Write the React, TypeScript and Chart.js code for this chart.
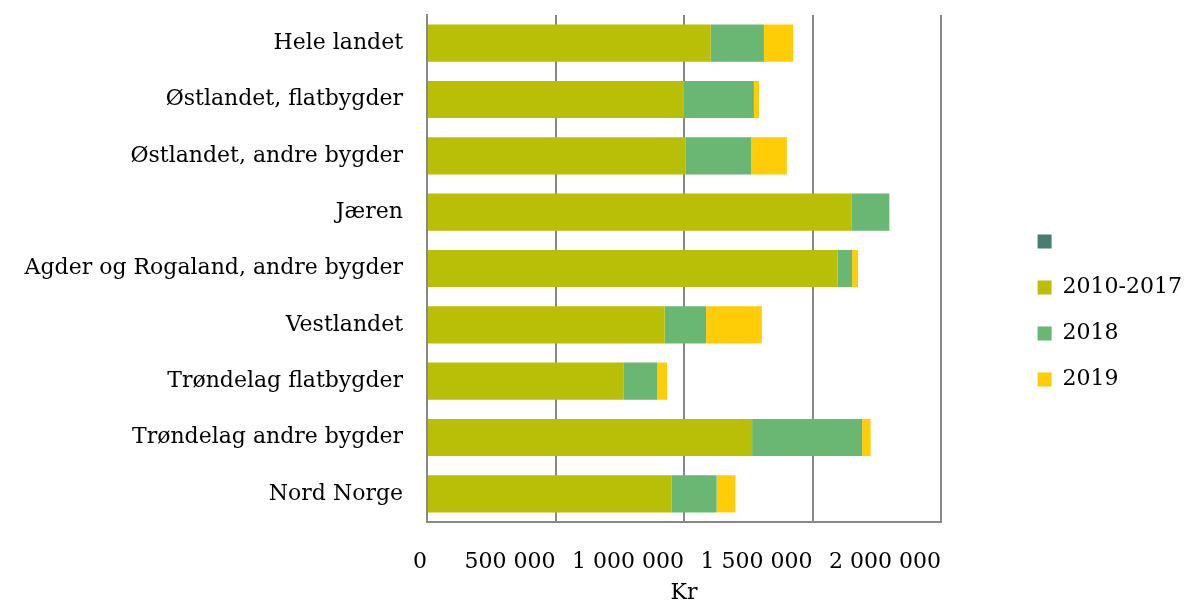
import React, { useEffect, useRef } from "react";
import { Chart, registerables } from "chart.js";

Chart.register(...registerables);

const categories = [
  "Hele landet",
  "Østlandet, flatbygder",
  "Østlandet, andre bygder",
  "Jæren",
  "Agder og Rogaland, andre bygder",
  "Vestlandet",
  "Trøndelag flatbygder",
  "Trøndelag andre bygder",
  "Nord Norge",
];

const seriesBlank = [0, 0, 0, 0, 0, 0, 0, 0, 0];
const series2010_2017 = [1104000, 1000000, 1005000, 1651000, 1598000, 925000, 764000, 1265000, 951000];
const series2018 = [207000, 272000, 256000, 148000, 56000, 161000, 132000, 428000, 176000];
const series2019 = [114000, 20000, 139000, 0, 23000, 217000, 38000, 33000, 73000];

const tickValues = [0, 500000, 1000000, 1500000, 2000000];
const tickLabels = ["0", "500 000", "1 000 000", "1 500 000", "2 000 000"];

const FONT = "'DejaVu Serif', 'Liberation Serif', serif";

export default function App() {
  const ref = useRef<HTMLCanvasElement | null>(null);

  useEffect(() => {
    if (!ref.current) return;
    const chart = new Chart(ref.current, {
      type: "bar",
      data: {
        labels: categories,
        datasets: [
          { label: "", data: seriesBlank, backgroundColor: "#467E72", borderWidth: 0 },
          { label: "2010-2017", data: series2010_2017, backgroundColor: "#B8BF06", borderWidth: 0 },
          { label: "2018", data: series2018, backgroundColor: "#6AB673", borderWidth: 0 },
          { label: "2019", data: series2019, backgroundColor: "#FFCD07", borderWidth: 0 },
        ],
      },
      options: {
        indexAxis: "y",
        responsive: true,
        maintainAspectRatio: false,
        animation: false,
        layout: { padding: { top: 15, left: 0, right: 0, bottom: 0 } },
        datasets: { bar: { barPercentage: 0.66, categoryPercentage: 1 } },
        scales: {
          x: {
            type: "linear",
            stacked: true,
            min: 0,
            max: 2000000,
            afterBuildTicks: (s: any) => {
              s.ticks = tickValues.map((v) => ({ value: v }));
            },
            ticks: {
              callback: (_v: any, i: number) => tickLabels[i],
              font: { family: FONT, size: 22 },
              color: "#000",
              padding: 27,
              align: "end",
              maxRotation: 0,
              autoSkip: false,
            },
            grid: { color: "#888888", lineWidth: 2, drawTicks: false },
            border: { color: "#888888", width: 2 },
            title: {
              display: true,
              text: "Kr",
              font: { family: FONT, size: 22 },
              color: "#000",
              padding: { top: 0, bottom: 0 },
            },
            afterFit: (s: any) => {
              s.height = 84;
              s.paddingLeft = 0;
              s.paddingRight = 0;
            },
          },
          y: {
            stacked: true,
            grid: { display: false, drawTicks: false },
            border: { color: "#888888", width: 2 },
            ticks: {
              font: { family: FONT, size: 22 },
              color: "#000",
              padding: 24,
              autoSkip: false,
            },
            afterFit: (s: any) => {
              s.width = 427;
              s.paddingTop = 0;
              s.paddingBottom = 0;
            },
          },
          gap: {
            type: "linear",
            position: "right",
            display: true,
            grid: { display: false, drawTicks: false },
            border: { display: false },
            ticks: { display: false },
            afterFit: (s: any) => {
              const lw = s.chart.legend && s.chart.legend.width ? s.chart.legend.width : 178;
              s.width = Math.max(0, s.chart.width - 941 - lw);
              s.paddingTop = 0;
              s.paddingBottom = 0;
            },
          },
        },
        plugins: {
          legend: {
            position: "right",
            labels: {
              boxWidth: 14,
              boxHeight: 14,
              padding: 24,
              color: "#000",
              font: { family: FONT, size: 22 },
            },
          },
          tooltip: { enabled: false },
        },
      } as any,
    });
    return () => chart.destroy();
  }, []);

  return (
    <div style={{ position: "fixed", left: 0, top: 0, width: 1192, height: 606, background: "#fff" }}>
      <canvas ref={ref} />
    </div>
  );
}
